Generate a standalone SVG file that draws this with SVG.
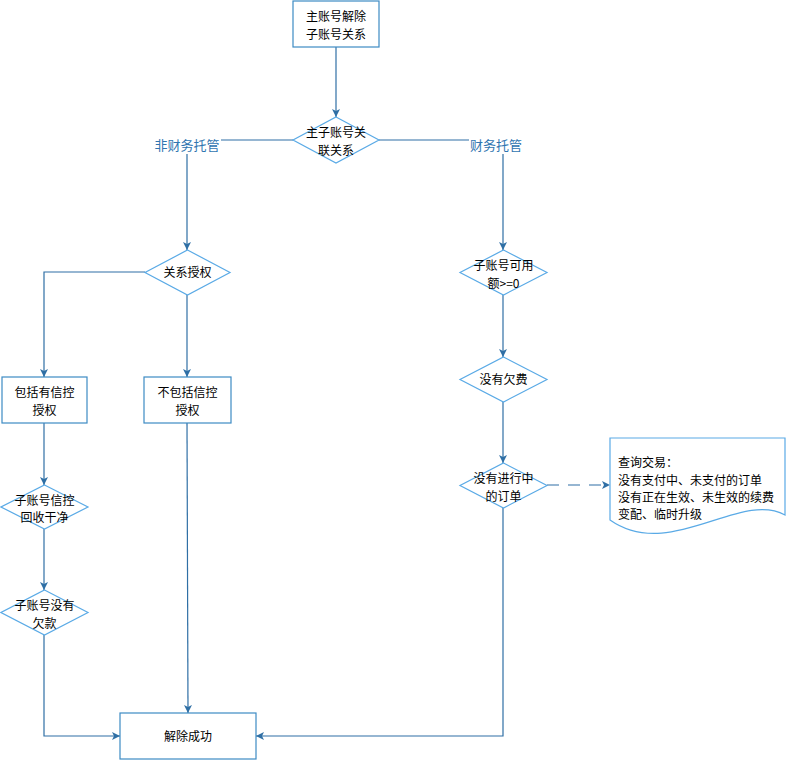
<svg xmlns="http://www.w3.org/2000/svg" width="786" height="760" viewBox="0 0 786 760">
<defs>
<style>
.box{fill:#fff;stroke:#3d8bc4;stroke-width:1.2}
.dia{fill:#fff;stroke:#5aaae6;stroke-width:1.2}
.doc{fill:#fff;stroke:#5aaae6;stroke-width:1.2}
.c{fill:none;stroke:#2f6fa5;stroke-width:1.2}
.d{fill:none;stroke:#2f6fa5;stroke-width:1.2;stroke-dasharray:12,9}
text{font-family:"Noto Sans CJK SC","Noto Sans",sans-serif;font-size:12px;fill:#000}
.t{text-anchor:middle}
.lab{fill:#2f75b0;font-size:13px;text-anchor:middle}
</style>
<marker id="a" markerWidth="10" markerHeight="10" refX="8" refY="4" orient="auto" markerUnits="userSpaceOnUse">
<path d="M0,0 L8,4 L0,8 L2,4 Z" fill="#2f6fa5"/>
</marker>
</defs>
<rect width="786" height="760" fill="#fff"/>
<g id="connectors">
<path class="c" d="M336,47 V117" marker-end="url(#a)"/>
<path class="c" d="M293,140 H187 V250" marker-end="url(#a)"/>
<path class="c" d="M379,140 H503 V250" marker-end="url(#a)"/>
<path class="c" d="M503,295 V357" marker-end="url(#a)"/>
<path class="c" d="M503,402 V463" marker-end="url(#a)"/>
<path class="d" d="M547,485 H610" marker-end="url(#a)"/>
<path class="c" d="M503,508 V736 H256" marker-end="url(#a)"/>
<path class="c" d="M145,272 H44 V377" marker-end="url(#a)"/>
<path class="c" d="M187,295 V377" marker-end="url(#a)"/>
<path class="c" d="M187,423 L188,713" marker-end="url(#a)"/>
<path class="c" d="M44,423 V485" marker-end="url(#a)"/>
<path class="c" d="M44,529 V590" marker-end="url(#a)"/>
<path class="c" d="M44,635 V736 H120" marker-end="url(#a)"/>
<rect x="154" y="138" width="67" height="16" fill="#fff"/>
<text class="lab" x="187" y="150">非财务托管</text>
<rect x="469" y="138" width="55" height="16" fill="#fff"/>
<text class="lab" x="496" y="150">财务托管</text>
</g>
<g id="n1">
<rect class="box" x="293" y="1" width="86" height="46"/>
<text class="t" x="336" y="21">主账号解除</text>
<text class="t" x="336" y="39">子账号关系</text>
</g>
<g id="n2">
<path class="dia" d="M336,117 L379,140 L336,163 L293,140 Z"/>
<text class="t" x="336" y="137">主子账号关</text>
<text class="t" x="336" y="155">联关系</text>
</g>
<g id="n3">
<path class="dia" d="M187.5,250 L230,272.5 L187.5,295 L145,272.5 Z"/>
<text class="t" x="187.5" y="277">关系授权</text>
</g>
<g id="n4">
<path class="dia" d="M503.5,250 L547,272.5 L503.5,295 L460,272.5 Z"/>
<text class="t" x="503.5" y="270">子账号可用</text>
<text class="t" x="503.5" y="288">额&gt;=0</text>
</g>
<g id="n5">
<path class="dia" d="M503.5,357 L547,379.5 L503.5,402 L460,379.5 Z"/>
<text class="t" x="503.5" y="384">没有欠费</text>
</g>
<g id="n6">
<path class="dia" d="M503.5,463 L547,485.5 L503.5,508 L460,485.5 Z"/>
<text class="t" x="503.5" y="483">没有进行中</text>
<text class="t" x="503.5" y="501">的订单</text>
</g>
<g id="n7">
<path class="doc" d="M610,438 H785 V515 C740,490 670,562 610,520 Z"/>
<text x="618" y="467">查询交易：</text>
<text x="618" y="485">没有支付中、未支付的订单</text>
<text x="618" y="502">没有正在生效、未生效的续费</text>
<text x="618" y="519">变配、临时升级</text>
</g>
<g id="n8">
<rect class="box" x="2" y="377" width="85" height="46"/>
<text class="t" x="44.5" y="397">包括有信控</text>
<text class="t" x="44.5" y="415">授权</text>
</g>
<g id="n9">
<rect class="box" x="144" y="377" width="87" height="46"/>
<text class="t" x="187.5" y="397">不包括信控</text>
<text class="t" x="187.5" y="415">授权</text>
</g>
<g id="n10">
<path class="dia" d="M44.5,485 L88,507 L44.5,529 L1,507 Z"/>
<text class="t" x="44.5" y="505">子账号信控</text>
<text class="t" x="44.5" y="522">回收干净</text>
</g>
<g id="n11">
<path class="dia" d="M44.5,590 L88,612.5 L44.5,635 L1,612.5 Z"/>
<text class="t" x="44.5" y="610">子账号没有</text>
<text class="t" x="44.5" y="628">欠款</text>
</g>
<g id="n12">
<rect class="box" x="120" y="713" width="136" height="46"/>
<text class="t" x="188" y="741">解除成功</text>
</g>
</svg>
